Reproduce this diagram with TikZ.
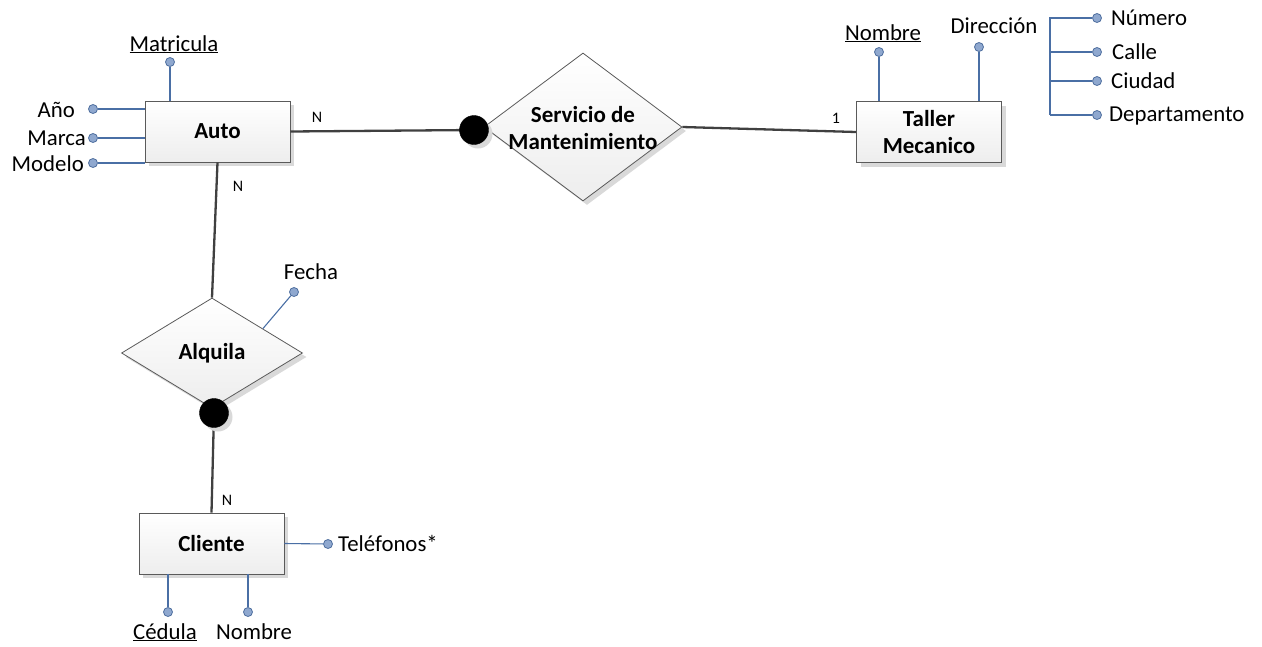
\documentclass[tikz,border=0pt]{standalone}
\usepackage{fontspec}
\setmainfont{Carlito}
\usetikzlibrary{shapes.geometric,shadows,calc}
\definecolor{attrline}{HTML}{4A6FA5}
\definecolor{attrfill}{HTML}{8FA8CF}
\definecolor{attrdraw}{HTML}{4F6F9F}
\definecolor{relline}{HTML}{404040}
\definecolor{boxline}{HTML}{5A5A5A}
\begin{document}
\begin{tikzpicture}[x=1pt,y=-1pt,
  shadowed/.style={drop shadow={shadow xshift=4pt,shadow yshift=-4pt,fill=black!15,opacity=1}},
  entity/.style={rectangle,draw=boxline,line width=0.9pt,top color=white,bottom color=black!7,
    minimum width=145pt,minimum height=61pt,inner sep=0pt,align=center,
    font=\bfseries\fontsize{23}{26.5}\selectfont,shadowed},
  relship/.style={diamond,draw=boxline,line width=0.8pt,top color=white,bottom color=black!7,
    inner sep=0pt,shadowed},
  reltext/.style={inner sep=0pt,align=center,font=\bfseries\fontsize{23}{26.5}\selectfont},
  dot/.style={circle,fill=black,draw=black,minimum size=29pt,inner sep=0pt,shadowed},
  relc/.style={draw=relline,line width=2.3pt},
  attr/.style={circle,fill=attrfill,draw=attrdraw,line width=0.8pt,minimum size=9pt,inner sep=0pt},
  attrc/.style={draw=attrline,line width=1.1pt},
  atxt/.style={inner sep=0pt,font=\fontsize{22.8}{26}\selectfont},
  card/.style={inner sep=0pt,font=\fontsize{16}{19}\selectfont}
]
\useasboundingbox (0,0) rectangle (1262,646);

% entities
\node[entity] (auto) at (217.5,131.5) {Auto};
\node[entity] (taller) at (929,132) {Taller\\Mecanico};
\node[entity] (cliente) at (211.5,543.5) {Cliente};

% relationships
\node[relship,minimum width=198pt,minimum height=148pt] (serv) at (583,127) {};
\node[reltext] (servT) at (583,128) {Servicio de\\Mantenimiento};
\node[relship,minimum width=181pt,minimum height=110pt] (alq) at (212,353) {};
\node[reltext] (alqT) at (212,353) {Alquila};

% relationship connectors
\draw[relc] (auto.east) -- (474,130) coordinate (d1c);
\draw[relc] (serv.east) -- (taller.west);
\draw[relc] (auto.south) -- (alq.north);
\draw[relc] (214,413) coordinate (d2c) -- (cliente.north);

\node[dot] (d1) at (d1c) {};
\node[dot] (d2) at (d2c) {};

% cardinalities
\node[card] (c1) at (317,117) {N};
\node[card] (c2) at (238,186) {N};
\node[card] (c3) at (836,118) {1};
\node[card] (c4) at (227,500) {N};

% Auto attributes
\node[attr] (aMat) at (170,62) {};
\draw[attrc] (aMat) -- (aMat |- auto.north);
\node[atxt,anchor=base] (tMat) at (174,51) {\underline{Matricula}};
\node[attr] (aAno) at (93,109) {};
\draw[attrc] (aAno) -- (aAno -| auto.west);
\node[atxt,anchor=base east] (tAno) at (75,117) {Año};
\node[attr] (aMar) at (93,138) {};
\draw[attrc] (aMar) -- (aMar -| auto.west);
\node[atxt,anchor=base east] (tMar) at (86,145) {Marca};
\node[attr] (aMod) at (93,163) {};
\draw[attrc] (aMod) -- (aMod -| auto.west);
\node[atxt,anchor=base east] (tMod) at (84,171) {Modelo};

% Taller attributes
\node[attr] (aNom) at (879,52) {};
\draw[attrc] (aNom) -- (aNom |- taller.north);
\node[atxt,anchor=base] (tNom) at (883,40) {\underline{Nombre}};
\node[attr] (aDir) at (979,47) {};
\draw[attrc] (aDir) -- (aDir |- taller.north);
\node[atxt,anchor=base] (tDir) at (994,33) {Dirección};

\coordinate (brT) at (1050,17);
\coordinate (brB) at (1050,115);
\node[attr] (aNum) at (1097,18) {};
\node[attr] (aCal) at (1097,52) {};
\node[attr] (aCiu) at (1097,81) {};
\node[attr] (aDep) at (1097,115) {};
\draw[attrc] (brT) -- (brB);
\draw[attrc] (aNum -| brT) -- (aNum);
\draw[attrc] (aCal -| brT) -- (aCal);
\draw[attrc] (aCiu -| brT) -- (aCiu);
\draw[attrc] (brB) -- (aDep);
\node[atxt,anchor=base west] (tNum) at (1111,25) {Número};
\node[atxt,anchor=base west] (tCal) at (1112,59) {Calle};
\node[atxt,anchor=base west] (tCiu) at (1111,88) {Ciudad};
\node[atxt,anchor=base west] (tDep) at (1109,121) {Departamento};

% Alquila attribute
\node[attr] (aFec) at (294,292) {};
\draw[attrc] ($(alq.north)!0.56!(alq.east)$) -- (aFec);
\node[atxt,anchor=base] (tFec) at (311,279) {Fecha};

% Cliente attributes
\node[attr] (aTel) at (328,544) {};
\draw[attrc] (cliente.east) -- (aTel);
\node[atxt,anchor=base west] (tTel) at (338,551) {Teléfonos*};
\node[attr] (aCed) at (168,612) {};
\draw[attrc] (aCed) -- (aCed |- cliente.south);
\node[atxt,anchor=base] (tCed) at (165,639) {\underline{Cédula}};
\node[attr] (aCNom) at (248,612) {};
\draw[attrc] (aCNom) -- (aCNom |- cliente.south);
\node[atxt,anchor=base] (tCNom) at (254,639) {Nombre};
\end{tikzpicture}
\end{document}
